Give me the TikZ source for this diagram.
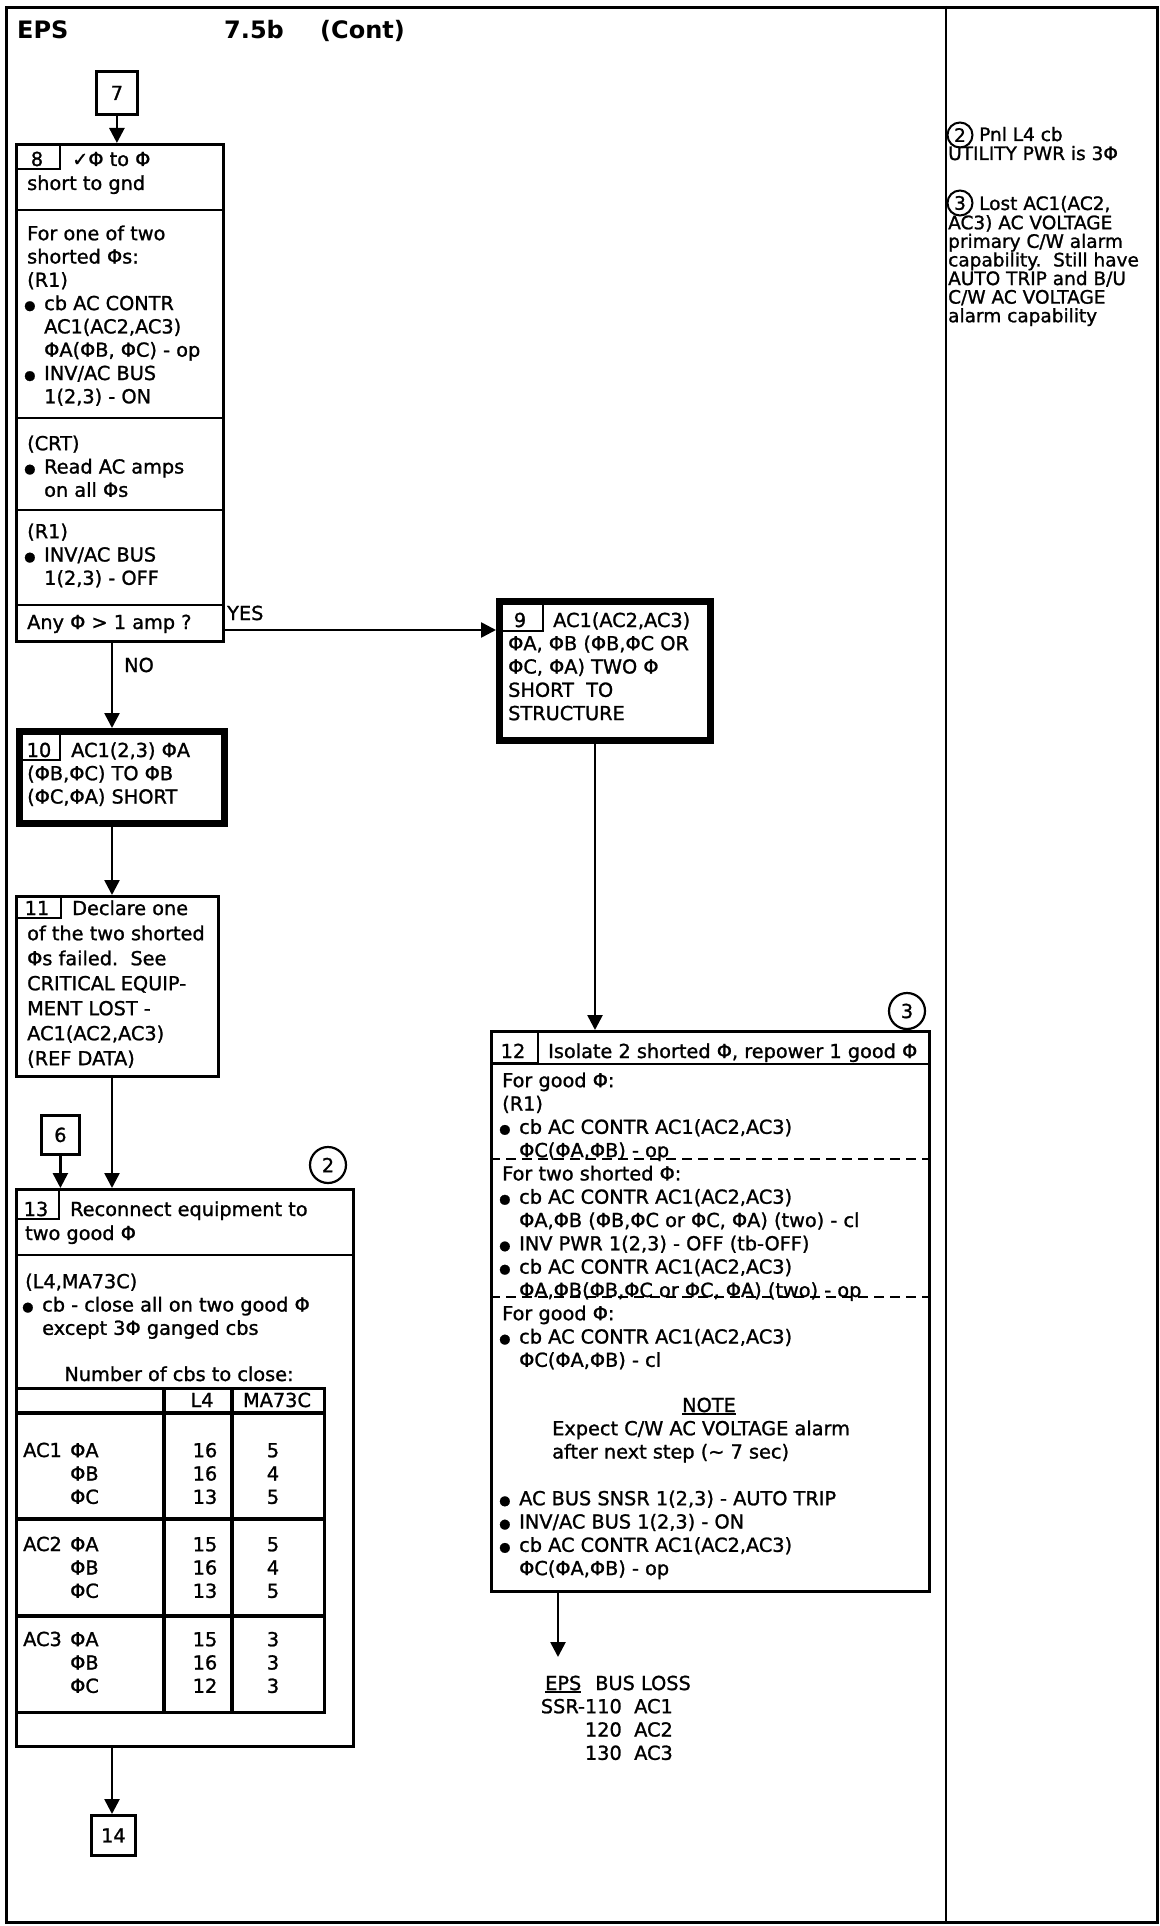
\documentclass[tikz,border=0pt]{standalone}
\usepackage{fontspec}
\setmainfont{DejaVu Sans}[UprightFeatures={FakeBold=1.2}]
\usetikzlibrary{arrows.meta}
\newcommand\bulx{\makebox[17pt][l]{\hspace*{-3pt}\raisebox{0.5pt}{\fontsize{13}{13}\selectfont ●}}}
\newcommand\indx{\hspace*{17pt}}
\newcommand\fstr{\rule{0pt}{16pt}}
\newcommand\fstrs{\rule{0pt}{14pt}}
\newcommand\uln[1]{\setbox0\hbox{#1}\rlap{\rule[-3pt]{\wd0}{1.6pt}}\box0}
\begin{document}
\begin{tikzpicture}[x=1pt,y=-1pt,
  every node/.style={inner sep=0pt, font=\fontsize{19.3}{23.3}\selectfont},
  box/.style={draw, line width=2.8pt, anchor=north west},
  heavy/.style={draw, line width=6.5pt, anchor=north west},
  lbl/.style={draw, line width=2.2pt, anchor=north west},
  txt/.style={anchor=north west, align=left},
  txtc/.style={anchor=north, align=center},
  bw/.style={anchor=base west},
  bc/.style={anchor=base},
  conn/.style={line width=2.6pt, -{Triangle[length=15pt,width=15pt]}},
  sepline/.style={line width=2.4pt},
  tblline/.style={line width=3.2pt},
  dashrule/.style={line width=2.2pt, dash pattern=on 10pt off 6pt},
  circ/.style={circle, draw, line width=2.2pt, minimum size=36pt},
  notefont/.style={font=\fontsize{18.5}{18.6}\selectfont},
  ttl/.style={anchor=base west, font=\fontsize{24}{28}\selectfont\bfseries},
]
\useasboundingbox (0,0) rectangle (1159,1926);
\node[draw, line width=2.6pt, anchor=north west, minimum width=1151pt, minimum height=1915pt] (frame) at (5,6) {};
\coordinate (divx) at (946,0);
\draw[line width=2.6pt] (frame.north -| divx) -- (frame.south -| divx);

% title
\node[ttl] (tEPS) at (17,39) {EPS};
\node[ttl] (tNum) at (224,39) {7.5b};
\node[ttl] (tCont) at (320,39) {(Cont)};

% column coordinates
\coordinate (cx) at (112,0);
\coordinate (c12) at (595,0);
\coordinate (yesy) at (0,630);

% box 7
\node[box, minimum width=41pt, minimum height=43pt] (b7) at (95,70) {7};

% box 8
\node[box, minimum width=207pt, minimum height=497pt] (b8) at (15,143) {};
\node[lbl, minimum width=44pt, minimum height=25pt] (l8) at (15,143) {};
\node[bc] (n8) at (37,166) {8};
\node[bw] (h8a) at (72,166) {✓Φ to Φ};
\node[bw] (h8b) at (27,190) {short to gnd};
\foreach \yy in {210,418,510,605} \draw[sepline] (b8.west |- 0,\yy) -- (b8.east |- 0,\yy);
\node[txt] (t8a) at (27,224) {\fstr For one of two\\shorted Φs:\\(R1)\\\bulx cb AC CONTR\\\indx AC1(AC2,AC3)\\\indx ΦA(ΦB, ΦC) - op\\\bulx INV/AC BUS\\\indx 1(2,3) - ON};
\node[txt] (t8b) at (27,434) {\fstr (CRT)\\\bulx Read AC amps\\\indx on all Φs};
\node[txt] (t8c) at (27,522) {\fstr (R1)\\\bulx INV/AC BUS\\\indx 1(2,3) - OFF};
\node[bw] (t8d) at (27,629) {Any Φ > 1 amp ?};

\draw[conn] (b7.south) -- (b7.south |- b8.north);

% box 9
\node[heavy, minimum width=211pt, minimum height=139pt] (b9) at (496,598) {};
\node[lbl, minimum width=43pt, minimum height=29pt] (l9) at (499,601) {};
\node[bc] (n9) at (520,627) {9};
\node[bw] (h9) at (553,627) {AC1(AC2,AC3)};
\node[txt] (t9) at (508,634) {\fstr ΦA, ΦB (ΦB,ΦC OR\\ΦC, ΦA) TWO Φ\\SHORT\ \ TO\\STRUCTURE};

\draw[conn] (b8.east |- yesy) -- (b9.west |- yesy);
\node[bw] (yes) at (227,620) {YES};

% box 10
\node[heavy, minimum width=205pt, minimum height=92pt] (b10) at (16,728) {};
\node[lbl, minimum width=40pt, minimum height=28pt] (l10) at (19,731) {};
\node[bc] (n10) at (39,757) {10};
\node[bw] (h10) at (71,757) {AC1(2,3) ΦA};
\node[txt] (t10) at (27,764) {\fstr (ΦB,ΦC) TO ΦB\\(ΦC,ΦA) SHORT};

\draw[conn] (b8.south -| cx) -- (b10.north -| cx);
\node[bw] (no) at (124,672) {NO};

% box 11
\node[box, minimum width=202pt, minimum height=180pt] (b11) at (15,895) {};
\node[lbl, minimum width=45pt, minimum height=22pt] (l11) at (15,895) {};
\node[bc] (n11) at (37,915) {11};
\node[bw] (h11) at (72,915) {Declare one};
\node[txt, font=\fontsize{19.3}{25}\selectfont] (t11) at (27,924) {\fstr of the two shorted\\Φs failed.\ \ See\\CRITICAL EQUIP-\\MENT LOST -\\AC1(AC2,AC3)\\(REF DATA)};

\draw[conn] (b10.south -| cx) -- (b11.north -| cx);

% box 6
\node[box, minimum width=38pt, minimum height=39pt] (b6) at (40,1114) {6};

% box 13
\node[box, minimum width=337pt, minimum height=557pt] (b13) at (15,1188) {};
\node[lbl, minimum width=43pt, minimum height=30pt] (l13) at (15,1188) {};
\node[bc] (n13) at (36,1216) {13};
\node[bw] (h13a) at (70,1216) {Reconnect equipment to};
\node[bw] (h13b) at (25,1240) {two good Φ};
\draw[sepline] (b13.west |- 0,1255) -- (b13.east |- 0,1255);
\node[circ] (c2) at (328,1165) {2};
\node[txt] (t13) at (25,1272) {\fstr (L4,MA73C)\\\bulx cb - close all on two good Φ\\\indx except 3Φ ganged cbs};
\node[bc] (cap13) at (179,1381) {Number of cbs to close:};

\draw[conn] (b11.south -| cx) -- (b13.north -| cx);
\draw[conn] (b6.south) -- (b6.south |- b13.north);

% table
\node[draw, line width=3.2pt, anchor=north west, minimum width=308pt, minimum height=324pt] (tbl) at (15,1387) {};
\coordinate (colA) at (164,0);
\coordinate (colB) at (232,0);
\draw[tblline] (tbl.north -| colA) -- (tbl.south -| colA);
\draw[tblline] (tbl.north -| colB) -- (tbl.south -| colB);
\foreach \yy in {1413,1519,1616} \draw[tblline] (tbl.west |- 0,\yy) -- (tbl.east |- 0,\yy);
\node[bc] (hL4) at (202,1407) {L4};
\node[bc] (hMA) at (277,1407) {MA73C};
\node[bw] (g1) at (23,1457) {AC1};
\node[txt] (g1p) at (70,1441) {\fstr ΦA\\ΦB\\ΦC};
\node[txtc] (g1a) at (205,1441) {\fstr 16\\16\\13};
\node[txtc] (g1b) at (273,1441) {\fstr 5\\4\\5};
\node[bw] (g2) at (23,1551) {AC2};
\node[txt] (g2p) at (70,1535) {\fstr ΦA\\ΦB\\ΦC};
\node[txtc] (g2a) at (205,1535) {\fstr 15\\16\\13};
\node[txtc] (g2b) at (273,1535) {\fstr 5\\4\\5};
\node[bw] (g3) at (23,1646) {AC3};
\node[txt] (g3p) at (70,1630) {\fstr ΦA\\ΦB\\ΦC};
\node[txtc] (g3a) at (205,1630) {\fstr 15\\16\\12};
\node[txtc] (g3b) at (273,1630) {\fstr 3\\3\\3};

% box 14
\node[box, minimum width=44pt, minimum height=40pt] (b14) at (90,1814) {14};
\draw[conn] (b13.south -| cx) -- (b14.north -| cx);

% box 12
\node[box, minimum width=438pt, minimum height=560pt] (b12) at (490,1030) {};
\node[lbl, minimum width=47pt, minimum height=32pt] (l12) at (490,1030) {};
\node[bc] (n12) at (513,1058) {12};
\node[bw] (h12) at (548,1058) {Isolate 2 shorted Φ, repower 1 good Φ};
\draw[sepline] (b12.west |- l12.south) -- (b12.east |- l12.south);
\node[circ] (c3) at (907,1011) {3};
\node[txt] (t12a) at (502,1071) {\fstr For good Φ:\\(R1)\\\bulx cb AC CONTR AC1(AC2,AC3)\\\indx ΦC(ΦA,ΦB) - op\\For two shorted Φ:\\\bulx cb AC CONTR AC1(AC2,AC3)\\\indx ΦA,ΦB (ΦB,ΦC or ΦC, ΦA) (two) - cl\\\bulx INV PWR 1(2,3) - OFF (tb-OFF)\\\bulx cb AC CONTR AC1(AC2,AC3)\\\indx ΦA,ΦB(ΦB,ΦC or ΦC, ΦA) (two) - op\\For good Φ:\\\bulx cb AC CONTR AC1(AC2,AC3)\\\indx ΦC(ΦA,ΦB) - cl};
\draw[dashrule] (b12.west |- 0,1159) -- (b12.east |- 0,1159);
\draw[dashrule] (b12.west |- 0,1297) -- (b12.east |- 0,1297);
\node[bc] (note) at (709,1412) {\uln{NOTE}};
\node[txt] (t12b) at (552,1419) {\fstr Expect C/W AC VOLTAGE alarm\\after next step (∼ 7 sec)};
\node[txt] (t12c) at (502,1489) {\fstr \bulx AC BUS SNSR 1(2,3) - AUTO TRIP\\\bulx INV/AC BUS 1(2,3) - ON\\\bulx cb AC CONTR AC1(AC2,AC3)\\\indx ΦC(ΦA,ΦB) - op};

\draw[conn] (b9.south -| c12) -- (b12.north -| c12);

% reference at bottom
\coordinate (reftop) at (558,1657);
\draw[conn] (b12.south -| reftop) -- (reftop);
\node[bw] (r1) at (545,1690) {\uln{EPS}\hspace{14pt}BUS LOSS};
\node[txt, anchor=north east, align=right] (r2) at (622,1697) {\fstr SSR-110\\120\\130};
\node[txt] (r3) at (634,1697) {\fstr AC1\\AC2\\AC3};

% notes column
\node[circ, notefont, minimum size=25pt, line width=2pt] (nc2) at (960,135) {2};
\node[bw, notefont] (n2a) at (979,141) {Pnl L4 cb};
\node[bw, notefont] (n2b) at (948,160) {UTILITY PWR is 3Φ};
\node[circ, notefont, minimum size=25pt, line width=2pt] (nc3) at (960,203) {3};
\node[bw, notefont] (n3a) at (979,210) {Lost AC1(AC2,};
\node[txt, notefont] (n3b) at (948,215) {\fstrs AC3) AC VOLTAGE\\primary C/W alarm\\capability.\ \ Still have\\AUTO TRIP and B/U\\C/W AC VOLTAGE\\alarm capability};
\end{tikzpicture}
\end{document}
